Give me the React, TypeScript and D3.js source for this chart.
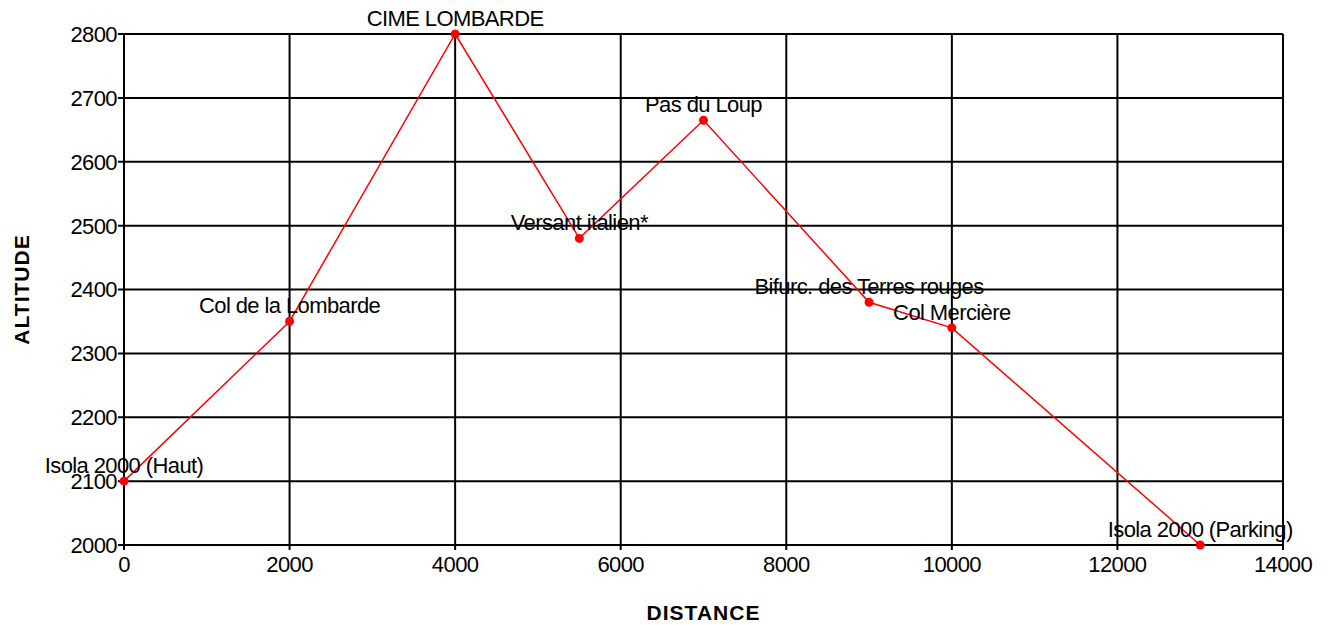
import React, { useEffect, useRef } from "react";
import * as d3 from "d3";

const distances = [0, 2000, 4000, 5500, 7000, 9000, 10000, 13000];
const altitudes = [2100, 2350, 2800, 2480, 2665, 2380, 2340, 2000];
const names = [
  "Isola 2000 (Haut)",
  "Col de la Lombarde",
  "CIME LOMBARDE",
  "Versant italien*",
  "Pas du Loup",
  "Bifurc. des Terres rouges",
  "Col Mercière",
  "Isola 2000 (Parking)",
];
const xTicks = [0, 2000, 4000, 6000, 8000, 10000, 12000, 14000];
const yTicks = [2000, 2100, 2200, 2300, 2400, 2500, 2600, 2700, 2800];

const W = 1331;
const H = 625;

export default function App() {
  const svgRef = useRef<SVGSVGElement | null>(null);

  useEffect(() => {
    const svg = d3.select(svgRef.current);
    svg.selectAll("*").remove();

    const left = 124, right = 1283, top = 34, bottom = 545;
    const x = d3.scaleLinear().domain([0, 14000]).range([left, right]);
    const y = d3.scaleLinear().domain([2000, 2800]).range([bottom, top]);
    const font = "'Liberation Sans', Arial, sans-serif";

    const grid = svg.append("g");
    grid.selectAll(".vx")
      .data(xTicks)
      .enter().append("line")
      .attr("x1", d => x(d)).attr("x2", d => x(d))
      .attr("y1", top).attr("y2", bottom + 5)
      .style("stroke", "#000").style("stroke-width", 2);
    grid.selectAll(".hy")
      .data(yTicks)
      .enter().append("line")
      .attr("x1", left - 6).attr("x2", right)
      .attr("y1", d => y(d)).attr("y2", d => y(d))
      .style("stroke", "#000").style("stroke-width", 2);

    svg.append("g").selectAll("text")
      .data(yTicks)
      .enter().append("text")
      .attr("x", left - 7)
      .attr("y", d => y(d))
      .attr("dy", "0.36em")
      .attr("text-anchor", "end")
      .style("font-family", font)
      .style("font-size", "22px")
      .style("letter-spacing", "-0.6px")
      .text(d => d);

    svg.append("g").selectAll("text")
      .data(xTicks)
      .enter().append("text")
      .attr("x", d => x(d))
      .attr("y", bottom + 27)
      .attr("text-anchor", "middle")
      .style("font-family", font)
      .style("font-size", "22px")
      .style("letter-spacing", "-0.6px")
      .text(d => d);

    const pts = distances.map((d, i) => ({ d, a: altitudes[i], name: names[i] }));

    const line = d3.line<{ d: number; a: number }>()
      .x(p => x(p.d))
      .y(p => y(p.a));

    svg.append("path")
      .datum(pts)
      .attr("d", line)
      .style("fill", "none")
      .style("stroke", "#ff0000")
      .style("stroke-width", 1.5);

    svg.append("g").selectAll("circle")
      .data(pts)
      .enter().append("circle")
      .attr("cx", p => x(p.d))
      .attr("cy", p => y(p.a))
      .attr("r", 4.5)
      .style("fill", "#ff0000");

    svg.append("g").selectAll("text")
      .data(pts)
      .enter().append("text")
      .attr("x", p => x(p.d))
      .attr("y", p => y(p.a) - 8)
      .attr("text-anchor", "middle")
      .style("font-family", font)
      .style("font-size", "22px")
      .style("letter-spacing", "-0.6px")
      .text(p => p.name);

    svg.append("text")
      .attr("x", (left + right) / 2)
      .attr("y", 620)
      .attr("text-anchor", "middle")
      .style("font-family", font)
      .style("font-size", "21px")
      .style("font-weight", "bold")
      .style("letter-spacing", "1px")
      .text("DISTANCE");

    svg.append("text")
      .attr("transform", `translate(29,${(top + bottom) / 2}) rotate(-90)`)
      .attr("text-anchor", "middle")
      .style("font-family", font)
      .style("font-size", "21px")
      .style("font-weight", "bold")
      .style("letter-spacing", "1px")
      .text("ALTITUDE");
  }, []);

  return (
    <svg
      ref={svgRef}
      width={W}
      height={H}
      style={{ position: "absolute", left: 0, top: 0, background: "#fff" }}
    />
  );
}
